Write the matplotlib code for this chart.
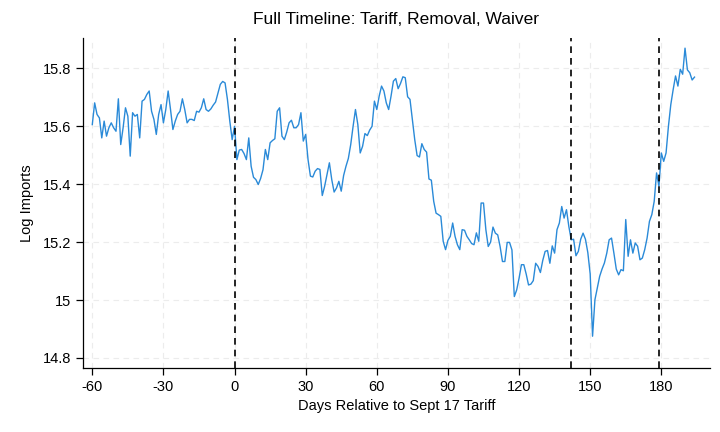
import numpy as np
import matplotlib
matplotlib.use("Agg")
import matplotlib.pyplot as plt
from matplotlib.ticker import FormatStrFormatter

plt.rcParams["font.family"] = ["Liberation Sans", "DejaVu Sans"]
plt.rcParams["axes.unicode_minus"] = False

# days relative to the Sept 17 tariff
first_day = -60

# log imports, one value per day
pre_tariff = [
    15.606, 15.681, 15.641, 15.629, 15.560, 15.618, 15.566, 15.595, 15.612, 15.595,
    15.583, 15.695, 15.537, 15.595, 15.664, 15.635, 15.497, 15.647, 15.635, 15.641,
    15.560, 15.687, 15.693, 15.710, 15.722, 15.652, 15.624, 15.572, 15.641, 15.675,
    15.612, 15.658, 15.722, 15.658, 15.589, 15.618, 15.641, 15.652, 15.695, 15.658,
    15.612, 15.624,
    15.624, 15.620, 15.652, 15.649, 15.664, 15.695, 15.658, 15.652, 15.660, 15.673,
    15.684, 15.714, 15.745, 15.755, 15.750, 15.693, 15.618, 15.554, 15.600,
]
tariff_period = [
    15.485, 15.518, 15.520, 15.506, 15.485, 15.560, 15.462, 15.424, 15.416, 15.399,
    15.420, 15.450, 15.520, 15.485, 15.543, 15.551, 15.557, 15.652, 15.664, 15.566,
    15.554, 15.580,
    15.612, 15.621, 15.595, 15.595, 15.606, 15.647, 15.549, 15.572, 15.485, 15.428,
    15.425, 15.445, 15.454, 15.451, 15.361, 15.393, 15.433, 15.474, 15.416, 15.373,
    15.387, 15.410, 15.376, 15.430, 15.462, 15.489, 15.537, 15.600, 15.658, 15.606,
    15.508, 15.531, 15.575, 15.568, 15.587, 15.600, 15.687, 15.658, 15.704, 15.739,
    15.722, 15.681, 15.658, 15.704,
    15.756, 15.765, 15.730, 15.748, 15.771, 15.768, 15.702, 15.693, 15.624, 15.554,
    15.499, 15.494, 15.540, 15.520, 15.511, 15.418, 15.414, 15.341, 15.300, 15.295,
    15.289, 15.203, 15.174, 15.206, 15.220, 15.266, 15.220, 15.191, 15.174, 15.243,
    15.241, 15.220, 15.208, 15.195, 15.191, 15.232, 15.203, 15.335, 15.335, 15.243,
    15.185,
    15.200, 15.252, 15.231, 15.225, 15.185, 15.133, 15.133, 15.199, 15.199, 15.173,
    15.012, 15.035, 15.075, 15.122, 15.122, 15.090, 15.052, 15.055, 15.067, 15.127,
    15.116, 15.095, 15.137, 15.168, 15.171, 15.127, 15.187, 15.162, 15.243, 15.266,
    15.323, 15.283, 15.312, 15.254,
]
post_removal = [
    15.208, 15.210, 15.153, 15.168, 15.210, 15.231, 15.210, 15.164,
    15.090, 14.875, 15.001, 15.041, 15.082, 15.107, 15.128, 15.162, 15.208, 15.214,
    15.162, 15.107, 15.087, 15.105, 15.101, 15.278, 15.151, 15.208, 15.162, 15.197,
    15.186, 15.139, 15.145, 15.174, 15.214, 15.272, 15.295, 15.341, 15.439, 15.393,
    15.508, 15.479, 15.508, 15.600, 15.675, 15.727, 15.774, 15.739, 15.797, 15.780,
    15.870, 15.795, 15.785, 15.760, 15.770,
]

event_days = [0, 142, 179]  # tariff, removal, waiver

log_imports = np.array(pre_tariff + tariff_period + post_removal)
days = np.arange(first_day, first_day + len(log_imports))

fig, ax = plt.subplots(figsize=(7.2, 4.32), dpi=100)
fig.subplots_adjust(left=0.115, right=0.986, bottom=0.148, top=0.912)

ax.grid(True, color="#ececec", linestyle=(0, (5, 4)), linewidth=0.8)
ax.set_axisbelow(True)

ax.plot(days, log_imports, color="#2a8ad8", linewidth=1.0)
for d in event_days:
    ax.axvline(d, color="black", linestyle=(0, (4, 3)), linewidth=1.2)

ax.set_xlim(-64, 200.5)
ax.set_ylim(14.765, 15.905)
ax.set_xticks(np.arange(-60, 181, 30))
ax.set_yticks([14.8, 15.0, 15.2, 15.4, 15.6, 15.8])
ax.yaxis.set_major_formatter(FormatStrFormatter("%g"))

for side in ["top", "right"]:
    ax.spines[side].set_visible(False)
for side in ["left", "bottom"]:
    ax.spines[side].set_linewidth(0.9)
ax.tick_params(direction="out", length=5, width=0.9, labelsize=10.5)

ax.set_title("Full Timeline: Tariff, Removal, Waiver", fontsize=12.5, pad=10)
ax.set_xlabel("Days Relative to Sept 17 Tariff", fontsize=10.5, labelpad=4)
ax.set_ylabel("Log Imports", fontsize=10.5, labelpad=6)

fig.savefig("out.png")
